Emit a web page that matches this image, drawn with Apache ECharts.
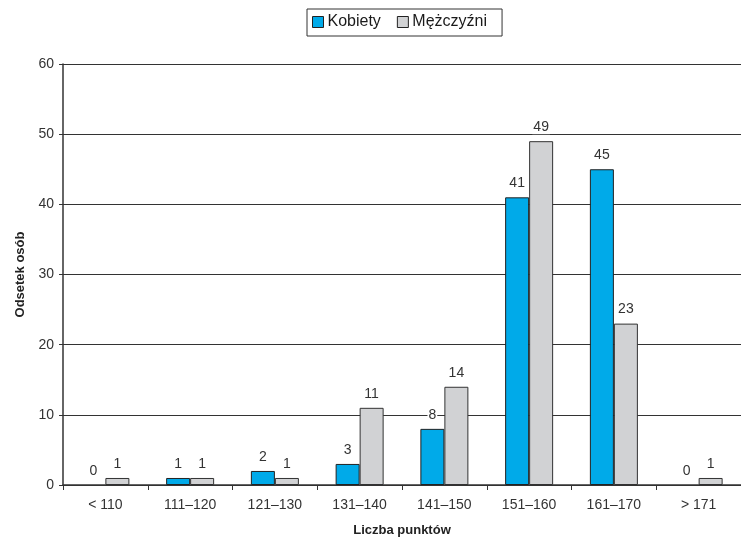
<!DOCTYPE html>
<html>
<head>
<meta charset="utf-8">
<script src="https://cdn.jsdelivr.net/npm/echarts@6/dist/echarts.min.js"></script>
<style>
  html, body { margin: 0; padding: 0; background: #fff; }
  #chart { width: 741px; height: 539px; }
</style>
</head>
<body>
<div id="chart"></div>
<script>
// Score ranges on the x axis
const categories = ['< 110', '111–120', '121–130', '131–140', '141–150', '151–160', '161–170', '> 171'];
// Percentage of people in each range
const women = [0, 1, 2, 3, 8, 41, 45, 0];
const men = [1, 1, 1, 11, 14, 49, 23, 1];
const yTicks = { min: 0, max: 60, interval: 10 };

const FONT = '"Liberation Sans", Arial, Helvetica, sans-serif';
const chart = echarts.init(document.getElementById('chart'));

const labelStyle = {
  show: true,
  position: 'top',
  distance: 7,
  color: '#333',
  fontFamily: FONT,
  fontSize: 14,
  backgroundColor: '#fff',
  padding: [0, 1]
};

// Zero-height bars get no fill or outline, so only their value label shows
function barItems(values, base) {
  return values.map(v => ({
    value: v,
    itemStyle: v === 0 ? { color: 'rgba(0,0,0,0)', borderWidth: 0 } : base
  }));
}

const womenStyle = { color: '#00aae9', borderColor: '#222', borderWidth: 1 };
const menStyle = { color: '#d1d2d4', borderColor: '#333', borderWidth: 1 };

chart.setOption({
  animation: false,
  textStyle: { fontFamily: FONT },
  legend: {
    top: 9,
    left: 307,
    itemWidth: 11,
    itemHeight: 11,
    itemGap: 16,
    padding: [5, 15, 6, 5],
    borderColor: '#333',
    borderWidth: 1,
    textStyle: { fontFamily: FONT, fontSize: 16, color: '#1a1a1a', padding: [0, 0, 0, -1] },
    itemStyle: { borderColor: '#222', borderWidth: 1 },
    data: [
      { name: 'Kobiety', icon: 'rect' },
      { name: 'Mężczyźni', icon: 'rect' }
    ]
  },
  grid: { left: 63, right: 0, top: 64, bottom: 54, outerBoundsMode: 'none', containLabel: false },
  xAxis: {
    type: 'category',
    data: categories,
    name: 'Liczba punktów',
    nameLocation: 'middle',
    nameGap: 39,
    nameTextStyle: { fontFamily: FONT, fontSize: 13, fontWeight: 'bold', color: '#222' },
    axisLine: { lineStyle: { color: '#333', width: 1.5 } },
    axisTick: { show: true, alignWithLabel: false, length: 5, lineStyle: { color: '#333' } },
    axisLabel: { color: '#333', fontSize: 14, margin: 13, fontFamily: FONT }
  },
  yAxis: {
    type: 'value',
    min: yTicks.min,
    max: yTicks.max,
    interval: yTicks.interval,
    name: 'Odsetek osób',
    nameLocation: 'middle',
    nameGap: 36,
    nameTextStyle: { fontFamily: FONT, fontSize: 13, fontWeight: 'bold', color: '#222' },
    axisLine: { show: true, lineStyle: { color: '#333', width: 1.5 } },
    axisTick: { show: true, length: 4, lineStyle: { color: '#333' } },
    axisLabel: { color: '#333', fontSize: 14, margin: 9, fontFamily: FONT },
    splitLine: { show: true, lineStyle: { color: '#333', width: 1 } }
  },
  series: [
    {
      name: 'Kobiety',
      type: 'bar',
      data: barItems(women, womenStyle),
      barWidth: 24,
      barGap: '0%',
      itemStyle: womenStyle,
      label: labelStyle
    },
    {
      name: 'Mężczyźni',
      type: 'bar',
      data: barItems(men, menStyle),
      barWidth: 24,
      barGap: '0%',
      itemStyle: menStyle,
      label: labelStyle
    }
  ]
});
</script>
</body>
</html>
